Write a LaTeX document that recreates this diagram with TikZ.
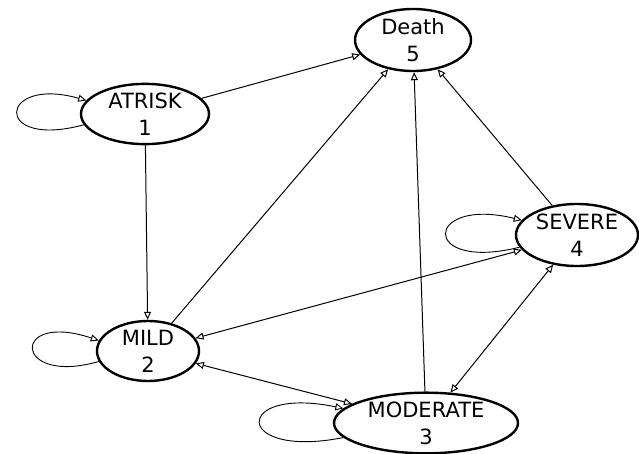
\documentclass[tikz,border=0pt]{standalone}
\usepackage{fontspec}
\setmainfont{DejaVu Sans}
\usetikzlibrary{arrows.meta, shapes.geometric}

\begin{document}
\begin{tikzpicture}[
    x=1pt, y=-1pt,
    state/.style={
        draw,
        ellipse,
        line width=2.4pt,
        inner sep=0pt,
        align=center,
        font=\fontsize{21}{27}\selectfont
    },
    trans/.style={
        -{Triangle[open, length=8pt, width=7pt]},
        line width=1pt
    },
    twoway/.style={
        {Triangle[open, length=8pt, width=7pt]}-{Triangle[open, length=8pt, width=7pt]},
        line width=1pt
    },
    selfloop/.style={
        -{Triangle[open, length=8pt, width=7pt]},
        line width=0.9pt
    }
]
\useasboundingbox (0,0) rectangle (639,454);

% === States ===
\node[state, minimum width=116pt, minimum height=62pt] (death) at (413,40) {Death\\5};
\node[state, minimum width=128pt, minimum height=60pt] (atrisk) at (145,114) {ATRISK\\1};
\node[state, minimum width=102pt, minimum height=60pt] (mild) at (148,351) {MILD\\2};
\node[state, minimum width=122pt, minimum height=62pt] (severe) at (577,235) {SEVERE\\4};
\node[state, minimum width=184pt, minimum height=58pt] (moderate) at (426,423) {MODERATE\\3};

% === Self loops ===
\draw[selfloop] (atrisk.190) .. controls +(-92,25) and +(-88,-25) .. (atrisk.167);
\draw[selfloop] (mild.192) .. controls +(-86,25) and +(-89,-30) .. (mild.168);
\draw[selfloop] (severe.192) .. controls +(-100,25) and +(-98,-24) .. (severe.165);
\draw[selfloop] (moderate.190) .. controls +(-111,22) and +(-111,-23) .. (moderate.170);

% === Transitions ===
\draw[trans] (atrisk) -- (death);
\draw[trans] (atrisk) -- (mild);
\draw[trans] (mild) -- (death);
\draw[trans] (moderate) -- (death);
\draw[trans] (severe) -- (death);
\draw[twoway] (mild) -- (severe);
\draw[twoway] (mild) -- (moderate);
\draw[twoway] (moderate) -- (severe);

\end{tikzpicture}
\end{document}
